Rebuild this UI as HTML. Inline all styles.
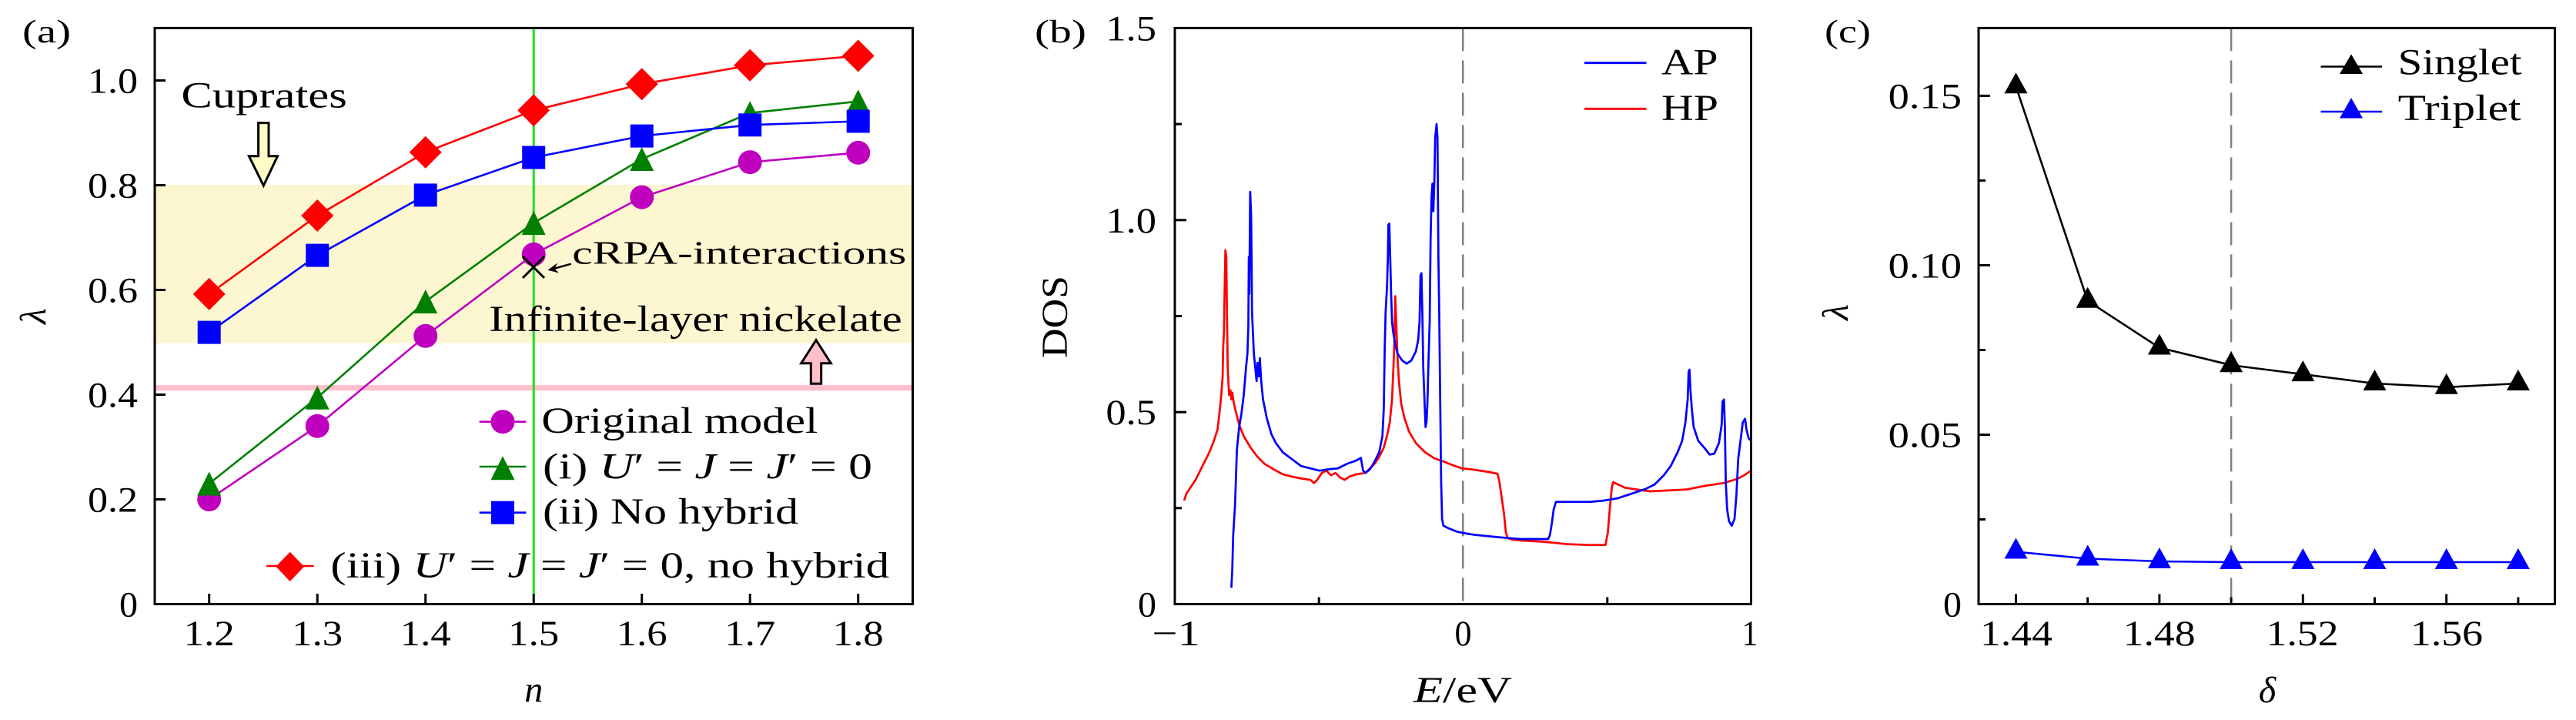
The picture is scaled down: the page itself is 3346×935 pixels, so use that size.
<!DOCTYPE html>
<html><head><meta charset="utf-8"><style>
html,body{margin:0;padding:0;background:#fff;}
svg{display:block;}
text{font-family:"Liberation Serif","DejaVu Serif",serif;fill:#000;}
</style></head><body>
<svg width="3346" height="935" viewBox="0 0 3346 935" xmlns="http://www.w3.org/2000/svg">
<rect x="0" y="0" width="3346" height="935" fill="#fff"/>

<!-- ================= PANEL A ================= -->
<rect x="201" y="240" width="984.5" height="205.7" fill="#FCF7D0"/>
<line x1="201" y1="503.7" x2="1185.5" y2="503.7" stroke="#FFC0CB" stroke-width="7.3"/>
<line x1="693.2" y1="36.4" x2="693.2" y2="784.5" stroke="#22DD22" stroke-width="3"/>

<!-- series lines -->
<polyline fill="none" stroke="#BF00BF" stroke-width="2.6" points="271.7,648.5 412.2,553.3 552.7,436.3 693.2,330.3 833.7,256.1 974.2,210.6 1114.7,198.3"/>
<polyline fill="none" stroke="#007F00" stroke-width="2.6" points="271.7,628 412.2,516.3 552.7,391.5 693.2,289.5 833.7,206.5 974.2,146.7 1114.7,131.7"/>
<polyline fill="none" stroke="#0000FF" stroke-width="2.6" points="271.7,431.6 412.2,331.6 552.7,253.4 693.2,204.5 833.7,176.6 974.2,162.3 1114.7,157.5"/>
<polyline fill="none" stroke="#FF0000" stroke-width="2.6" points="271.7,381.9 412.2,280 552.7,197.7 693.2,143.3 833.7,109.3 974.2,84.8 1114.7,72.5"/>

<!-- magenta circles -->
<g fill="#BF00BF">
<circle cx="271.7" cy="648.5" r="15.5"/><circle cx="412.2" cy="553.3" r="15.5"/><circle cx="552.7" cy="436.3" r="15.5"/><circle cx="693.2" cy="330.3" r="15.5"/><circle cx="833.7" cy="256.1" r="15.5"/><circle cx="974.2" cy="210.6" r="15.5"/><circle cx="1114.7" cy="198.3" r="15.5"/>
</g>
<!-- green triangles (bbox centered) -->
<g fill="#007F00">
<polygon points="271.7,612.5 287.2,643.5 256.2,643.5"/>
<polygon points="412.2,500.8 427.7,531.8 396.7,531.8"/>
<polygon points="552.7,376 568.2,407 537.2,407"/>
<polygon points="693.2,274 708.7,305 677.7,305"/>
<polygon points="833.7,191 849.2,222 818.2,222"/>
<polygon points="974.2,131.2 989.7,162.2 958.7,162.2"/>
<polygon points="1114.7,116.2 1130.2,147.2 1099.2,147.2"/>
</g>
<!-- blue squares -->
<g fill="#0000FF">
<rect x="256.7" y="416.6" width="30" height="30"/><rect x="397.2" y="316.6" width="30" height="30"/><rect x="537.7" y="238.4" width="30" height="30"/><rect x="678.2" y="189.5" width="30" height="30"/><rect x="818.7" y="161.6" width="30" height="30"/><rect x="959.2" y="147.3" width="30" height="30"/><rect x="1099.7" y="142.5" width="30" height="30"/>
</g>
<!-- red diamonds -->
<g fill="#FF0000">
<polygon points="271.7,360.9 292.7,381.9 271.7,402.9 250.7,381.9"/>
<polygon points="412.2,259 433.2,280 412.2,301 391.2,280"/>
<polygon points="552.7,176.7 573.7,197.7 552.7,218.7 531.7,197.7"/>
<polygon points="693.2,122.3 714.2,143.3 693.2,164.3 672.2,143.3"/>
<polygon points="833.7,88.3 854.7,109.3 833.7,130.3 812.7,109.3"/>
<polygon points="974.2,63.8 995.2,84.8 974.2,105.8 953.2,84.8"/>
<polygon points="1114.7,51.5 1135.7,72.5 1114.7,93.5 1093.7,72.5"/>
</g>

<!-- cRPA cross and arrow -->
<g stroke="#000" stroke-width="3" fill="none">
<line x1="679" y1="333" x2="707" y2="361"/><line x1="707" y1="333" x2="679" y2="361"/>
<line x1="741.7" y1="342.7" x2="716" y2="349.8" stroke-width="2.5"/>
</g>
<path d="M711.5,350.7 L724,341.5 L720.5,349 L726,354.5 Z" fill="#000"/>

<!-- cuprates arrow -->
<polygon points="335.6,159.6 349,159.6 349,202.8 360.5,202.8 342.3,241.1 323.4,202.8 335.6,202.8" fill="#FFFDC5" stroke="#000" stroke-width="3" stroke-linejoin="miter"/>
<!-- nickelate arrow -->
<polygon points="1053.3,498.3 1066.7,498.3 1066.7,471.7 1079.3,471.7 1060,441.7 1040.7,471.7 1053.3,471.7" fill="#FFC0CB" stroke="#000" stroke-width="3"/>

<text x="235.4" y="139.7" font-size="48" textLength="215.4" lengthAdjust="spacingAndGlyphs">Cuprates</text>
<text x="743.3" y="342.7" font-size="42" textLength="434" lengthAdjust="spacingAndGlyphs">cRPA-interactions</text>
<text x="635.2" y="430" font-size="48" textLength="536.5" lengthAdjust="spacingAndGlyphs">Infinite-layer nickelate</text>

<!-- legend a -->
<line x1="622.7" y1="547.7" x2="683.3" y2="547.7" stroke="#BF00BF" stroke-width="2.6"/>
<circle cx="653" cy="547.7" r="15.5" fill="#BF00BF"/>
<line x1="622.7" y1="606" x2="683.3" y2="606" stroke="#007F00" stroke-width="2.6"/>
<polygon points="653,592.3 668.5,623.3 637.5,623.3" fill="#007F00"/>
<line x1="622.7" y1="665.7" x2="683.3" y2="665.7" stroke="#0000FF" stroke-width="2.6"/>
<rect x="638" y="650.7" width="30" height="30" fill="#0000FF"/>
<line x1="346" y1="735" x2="407.7" y2="735" stroke="#FF0000" stroke-width="2.6"/>
<polygon points="376.7,716.7 395,735.8 376.7,755 358.3,735.8" fill="#FF0000"/>

<text x="703.3" y="562" font-size="48" textLength="359" lengthAdjust="spacingAndGlyphs">Original model</text>
<text x="705" y="621.7" font-size="48" textLength="428" lengthAdjust="spacingAndGlyphs">(i) <tspan font-style="italic">U</tspan>′ = <tspan font-style="italic">J</tspan> = <tspan font-style="italic">J</tspan>′ = 0</text>
<text x="705" y="680" font-size="48" textLength="332" lengthAdjust="spacingAndGlyphs">(ii) No hybrid</text>
<text x="429.3" y="750" font-size="48" textLength="726" lengthAdjust="spacingAndGlyphs">(iii) <tspan font-style="italic">U</tspan>′ = <tspan font-style="italic">J</tspan> = <tspan font-style="italic">J</tspan>′ = 0, no hybrid</text>

<!-- axes a -->
<g stroke="#000" stroke-width="3">
<line x1="201" y1="648.5" x2="215" y2="648.5"/><line x1="201" y1="512.5" x2="215" y2="512.5"/><line x1="201" y1="376.5" x2="215" y2="376.5"/><line x1="201" y1="240.5" x2="215" y2="240.5"/><line x1="201" y1="104.5" x2="215" y2="104.5"/>
<line x1="271.7" y1="784.5" x2="271.7" y2="771"/><line x1="412.2" y1="784.5" x2="412.2" y2="771"/><line x1="552.7" y1="784.5" x2="552.7" y2="771"/><line x1="693.2" y1="784.5" x2="693.2" y2="771"/><line x1="833.7" y1="784.5" x2="833.7" y2="771"/><line x1="974.2" y1="784.5" x2="974.2" y2="771"/><line x1="1114.7" y1="784.5" x2="1114.7" y2="771"/>
</g>
<rect x="201" y="36.4" width="984.5" height="748.1" fill="none" stroke="#000" stroke-width="3"/>

<g font-size="47" text-anchor="end">
<text x="179" y="120.5" textLength="65" lengthAdjust="spacingAndGlyphs">1.0</text>
<text x="179" y="256.5" textLength="65" lengthAdjust="spacingAndGlyphs">0.8</text>
<text x="179" y="392.5" textLength="65" lengthAdjust="spacingAndGlyphs">0.6</text>
<text x="179" y="528.5" textLength="65" lengthAdjust="spacingAndGlyphs">0.4</text>
<text x="179" y="664.5" textLength="65" lengthAdjust="spacingAndGlyphs">0.2</text>
<text x="179" y="800.5" textLength="24" lengthAdjust="spacingAndGlyphs">0</text>
</g>
<g font-size="47" text-anchor="middle">
<text x="271.7" y="838" textLength="66" lengthAdjust="spacingAndGlyphs">1.2</text>
<text x="412.2" y="838" textLength="66" lengthAdjust="spacingAndGlyphs">1.3</text>
<text x="552.7" y="838" textLength="66" lengthAdjust="spacingAndGlyphs">1.4</text>
<text x="693.2" y="838" textLength="66" lengthAdjust="spacingAndGlyphs">1.5</text>
<text x="833.7" y="838" textLength="66" lengthAdjust="spacingAndGlyphs">1.6</text>
<text x="974.2" y="838" textLength="66" lengthAdjust="spacingAndGlyphs">1.7</text>
<text x="1114.7" y="838" textLength="66" lengthAdjust="spacingAndGlyphs">1.8</text>
</g>
<text x="29" y="55" font-size="42" textLength="63" lengthAdjust="spacingAndGlyphs">(a)</text>
<text transform="translate(59,410.5) rotate(-90)" font-size="48" font-style="italic" text-anchor="middle">λ</text>
<text x="693.3" y="911.7" font-size="48" font-style="italic" text-anchor="middle">n</text>

<!-- ================= PANEL B ================= -->
<line x1="1900.2" y1="36.4" x2="1900.2" y2="784.5" stroke="#808080" stroke-width="2.5" stroke-dasharray="30 12"/>
<g transform="translate(1380,0) scale(0.5963)" fill="none" stroke-width="4.6" stroke-linejoin="round">
<polyline stroke="#FF0000" points="265,1090 270,1075 280,1060 290,1045 300,1025 310,1005 320,985 330,960 338,935 342,900 346,860 349,820 350,760 352,720 353,650 355,545 357,560 358,650 360,800 363,860 366,850 368,870 370,855 372,870 376,890 385,925 395,950 410,975 425,995 440,1010 460,1022 480,1033 500,1038 520,1042 540,1045 548,1052 555,1045 565,1030 575,1025 585,1035 595,1030 605,1040 615,1045 625,1038 640,1033 660,1030 670,1020 680,1010 690,995 700,975 708,945 713,920 718,870 721,800 723,750 725,645 727,700 730,780 733,830 738,880 745,910 755,940 770,965 790,985 810,998 830,1005 850,1013 870,1020 890,1022 910,1025 930,1028 948,1032 952,1050 957,1085 962,1120 966,1160 970,1172 980,1175 1000,1177 1050,1180 1100,1185 1150,1187 1183,1187 1188,1160 1193,1100 1197,1060 1200,1050 1210,1055 1225,1062 1250,1066 1280,1070 1320,1068 1360,1066 1400,1058 1440,1052 1470,1043 1485,1035 1500,1025"/>
<polyline stroke="#0000FF" points="368,1280 370,1240 372,1165 376,1100 378,1040 380,980 385,930 390,900 395,860 400,800 403,770 405,710 406,560 407,640 409,418 411,470 412,560 413,680 417,770 420,800 423,830 425,790 428,820 430,780 433,830 437,870 445,910 455,945 465,965 480,985 500,1000 520,1015 540,1020 560,1025 580,1022 600,1020 620,1010 640,1003 650,997 655,1025 660,1030 670,1022 680,1005 690,985 697,950 700,890 702,760 704,680 707,625 709,560 710,490 712,487 714,560 716,640 718,700 720,720 725,750 730,770 740,785 750,792 760,785 770,765 775,740 778,700 780,600 782,595 784,680 786,800 789,880 791,930 793,920 795,880 797,800 800,700 802,520 804,430 806,400 808,460 810,400 812,300 815,270 817,300 819,560 821,700 823,880 825,1050 827,1130 830,1145 840,1150 860,1158 880,1162 900,1165 950,1170 1000,1174 1058,1174 1062,1165 1066,1140 1070,1110 1075,1093 1100,1093 1150,1093 1180,1090 1210,1085 1240,1075 1270,1065 1290,1055 1310,1035 1325,1015 1340,985 1350,960 1357,920 1362,870 1364,810 1366,805 1368,850 1371,890 1375,930 1385,960 1398,975 1410,990 1420,988 1430,965 1436,925 1438,875 1441,870 1443,930 1445,1050 1448,1110 1452,1135 1458,1145 1464,1130 1468,1080 1472,1000 1477,960 1482,920 1487,912 1490,935 1495,955 1500,960"/>
</g>
<!-- legend b -->
<line x1="2058" y1="81.7" x2="2138.5" y2="81.7" stroke="#0000FF" stroke-width="2.8"/>
<line x1="2058" y1="141.3" x2="2138.5" y2="141.3" stroke="#FF0000" stroke-width="2.8"/>
<text x="2158" y="96.6" font-size="48" textLength="73.5" lengthAdjust="spacingAndGlyphs">AP</text>
<text x="2158" y="156" font-size="48" textLength="74" lengthAdjust="spacingAndGlyphs">HP</text>
<!-- axes b -->
<g stroke="#000" stroke-width="3">
<line x1="1526" y1="659.8" x2="1535" y2="659.8"/><line x1="1526" y1="535.2" x2="1541" y2="535.2"/><line x1="1526" y1="410.5" x2="1535" y2="410.5"/><line x1="1526" y1="285.8" x2="1541" y2="285.8"/><line x1="1526" y1="161.1" x2="1535" y2="161.1"/>
<line x1="1713.2" y1="784.5" x2="1713.2" y2="775.5"/><line x1="2087.8" y1="784.5" x2="2087.8" y2="775.5"/>
</g>
<rect x="1526" y="36.4" width="748.5" height="748.1" fill="none" stroke="#000" stroke-width="3"/>
<g font-size="47" text-anchor="end">
<text x="1502" y="52.4" textLength="65.6" lengthAdjust="spacingAndGlyphs">1.5</text>
<text x="1502" y="301.8" textLength="65.6" lengthAdjust="spacingAndGlyphs">1.0</text>
<text x="1502" y="551.2" textLength="65.6" lengthAdjust="spacingAndGlyphs">0.5</text>
<text x="1502" y="800.5" textLength="24" lengthAdjust="spacingAndGlyphs">0</text>
</g>
<g font-size="47" text-anchor="middle">
<text x="1527.6" y="838" textLength="62.6" lengthAdjust="spacingAndGlyphs">−1</text>
<text x="1900.5" y="838" textLength="22" lengthAdjust="spacingAndGlyphs">0</text>
<text x="2273" y="838" textLength="21" lengthAdjust="spacingAndGlyphs">1</text>
</g>
<text x="1344" y="55" font-size="42" textLength="67" lengthAdjust="spacingAndGlyphs">(b)</text>
<text transform="translate(1386,411.5) rotate(-90)" font-size="48" text-anchor="middle" textLength="107" lengthAdjust="spacingAndGlyphs">DOS</text>
<text x="1900" y="912" font-size="48" text-anchor="middle" textLength="128" lengthAdjust="spacingAndGlyphs"><tspan font-style="italic">E</tspan>/eV</text>

<!-- ================= PANEL C ================= -->
<line x1="2898.1" y1="36.4" x2="2898.1" y2="784.5" stroke="#808080" stroke-width="2.5" stroke-dasharray="30 12"/>
<polyline fill="none" stroke="#000" stroke-width="2.6" points="2618.5,112.2 2711.7,390.7 2804.9,451.5 2898.1,474.2 2991.3,486.1 3084.5,498 3177.7,502.8 3270.9,498"/>
<polyline fill="none" stroke="#0000FF" stroke-width="2.6" points="2618.5,716.5 2711.7,725.5 2804.9,729 2898.1,730 2991.3,730 3084.5,730 3177.7,730 3270.9,730"/>
<g fill="#000">
<polygon points="2618.5,94.2 2633.5,121.2 2603.5,121.2"/>
<polygon points="2711.7,372.7 2726.7,399.7 2696.7,399.7"/>
<polygon points="2804.9,433.5 2819.9,460.5 2789.9,460.5"/>
<polygon points="2898.1,456.2 2913.1,483.2 2883.1,483.2"/>
<polygon points="2991.3,468.1 3006.3,495.1 2976.3,495.1"/>
<polygon points="3084.5,480 3099.5,507 3069.5,507"/>
<polygon points="3177.7,484.8 3192.7,511.8 3162.7,511.8"/>
<polygon points="3270.9,480 3285.9,507 3255.9,507"/>
</g>
<g fill="#0000FF">
<polygon points="2618.5,698.5 2633.5,725.5 2603.5,725.5"/>
<polygon points="2711.7,707.5 2726.7,734.5 2696.7,734.5"/>
<polygon points="2804.9,711 2819.9,738 2789.9,738"/>
<polygon points="2898.1,712 2913.1,739 2883.1,739"/>
<polygon points="2991.3,712 3006.3,739 2976.3,739"/>
<polygon points="3084.5,712 3099.5,739 3069.5,739"/>
<polygon points="3177.7,712 3192.7,739 3162.7,739"/>
<polygon points="3270.9,712 3285.9,739 3255.9,739"/>
</g>
<!-- legend c -->
<line x1="3014.5" y1="86.5" x2="3094" y2="86.5" stroke="#000" stroke-width="2.6"/>
<polygon points="3054,70.4 3069,96 3039,96" fill="#000"/>
<line x1="3014.5" y1="145" x2="3094" y2="145" stroke="#0000FF" stroke-width="2.6"/>
<polygon points="3054,127 3069,153.5 3039,153.5" fill="#0000FF"/>
<text x="3114.6" y="96.5" font-size="48" textLength="161" lengthAdjust="spacingAndGlyphs">Singlet</text>
<text x="3114.6" y="156" font-size="48" textLength="160" lengthAdjust="spacingAndGlyphs">Triplet</text>
<!-- axes c -->
<g stroke="#000" stroke-width="3">
<line x1="2570" y1="674.5" x2="2579" y2="674.5"/><line x1="2570" y1="564.5" x2="2585" y2="564.5"/><line x1="2570" y1="454.5" x2="2579" y2="454.5"/><line x1="2570" y1="344.4" x2="2585" y2="344.4"/><line x1="2570" y1="234.4" x2="2579" y2="234.4"/><line x1="2570" y1="124.4" x2="2585" y2="124.4"/>
<line x1="2618.5" y1="784.5" x2="2618.5" y2="771.5"/><line x1="2711.7" y1="784.5" x2="2711.7" y2="775.5"/><line x1="2804.9" y1="784.5" x2="2804.9" y2="771.5"/><line x1="2898.1" y1="784.5" x2="2898.1" y2="775.5"/><line x1="2991.3" y1="784.5" x2="2991.3" y2="771.5"/><line x1="3084.5" y1="784.5" x2="3084.5" y2="775.5"/><line x1="3177.7" y1="784.5" x2="3177.7" y2="771.5"/><line x1="3270.9" y1="784.5" x2="3270.9" y2="775.5"/>
</g>
<rect x="2570" y="36.4" width="748.6" height="748.1" fill="none" stroke="#000" stroke-width="3"/>
<g font-size="47" text-anchor="end">
<text x="2548" y="140.4" textLength="95.4" lengthAdjust="spacingAndGlyphs">0.15</text>
<text x="2548" y="360.4" textLength="95.4" lengthAdjust="spacingAndGlyphs">0.10</text>
<text x="2548" y="580.5" textLength="95.4" lengthAdjust="spacingAndGlyphs">0.05</text>
<text x="2548" y="800.5" textLength="24" lengthAdjust="spacingAndGlyphs">0</text>
</g>
<g font-size="47" text-anchor="middle">
<text x="2619" y="838" textLength="94" lengthAdjust="spacingAndGlyphs">1.44</text>
<text x="2804.6" y="838" textLength="94" lengthAdjust="spacingAndGlyphs">1.48</text>
<text x="2990.5" y="838" textLength="94" lengthAdjust="spacingAndGlyphs">1.52</text>
<text x="3178" y="838" textLength="94" lengthAdjust="spacingAndGlyphs">1.56</text>
</g>
<text x="2370" y="55" font-size="42" textLength="60" lengthAdjust="spacingAndGlyphs">(c)</text>
<text transform="translate(2400,405.5) rotate(-90)" font-size="48" font-style="italic" text-anchor="middle">λ</text>
<text x="2945" y="912" font-size="48" font-style="italic" text-anchor="middle">δ</text>
</svg>
</body></html>
